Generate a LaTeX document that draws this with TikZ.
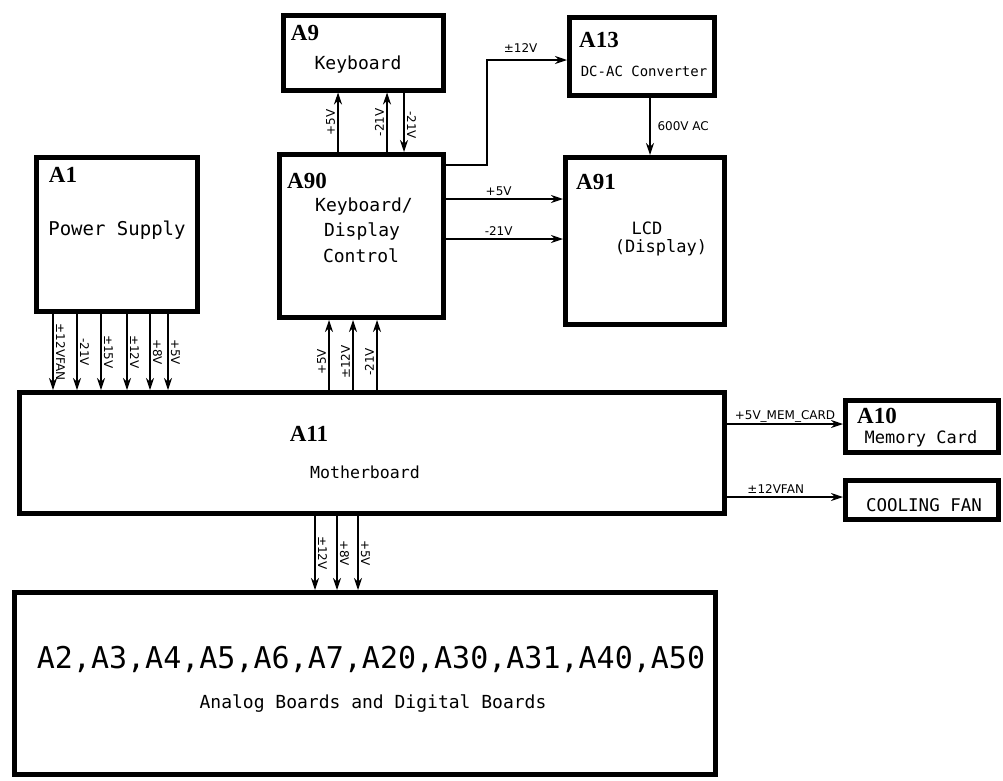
\documentclass[tikz,border=0pt]{standalone}
\usepackage{fontspec}
\usetikzlibrary{arrows.meta}
\newfontfamily\boxfont{DejaVu Sans Mono}
\newfontfamily\labfont{DejaVu Sans}
\newfontfamily\titlefont{Liberation Serif}
\tikzset{
  box/.style={draw, line width=5pt, inner sep=0pt},
  ttl/.style={font=\titlefont\bfseries\fontsize{23}{23}\selectfont, inner sep=0pt, anchor=base},
  txt/.style={font=\boxfont\fontsize{#1}{#1}\selectfont, inner sep=0pt, anchor=base},
  txt/.default=18,
  lab/.style={font=\labfont\fontsize{12}{12}\selectfont, inner sep=2.5pt},
  arr/.style={line width=1.1pt, -{Stealth[length=12pt,width=8pt]}}
}
\begin{document}
\begin{tikzpicture}[x=1pt,y=-1pt]
\useasboundingbox (0,0) rectangle (1003,780);
% boxes
\node[box, minimum width=160pt, minimum height=75pt] (a9) at (363,52.5) {};
\node[box, minimum width=145pt, minimum height=78pt] (a13) at (642,56.5) {};
\node[box, minimum width=161pt, minimum height=154pt] (a1) at (117,234.5) {};
\node[box, minimum width=164pt, minimum height=163pt] (a90) at (361.5,236) {};
\node[box, minimum width=159pt, minimum height=167pt] (a91) at (645,241) {};
\node[box, minimum width=705pt, minimum height=121pt] (a11) at (372,453) {};
\node[box, minimum width=153pt, minimum height=52pt] (a10) at (922,426.5) {};
\node[box, minimum width=153pt, minimum height=39pt] (fan) at (922,500) {};
\node[box, minimum width=701pt, minimum height=182pt] (brd) at (365,683.5) {};
% texts
\node[ttl] (t9) at (305,40) {A9};
\node[txt] (k9) at (358,69) {Keyboard};
\node[ttl] (t13) at (599,47) {A13};
\node[txt=14] (c13) at (644,76) {DC-AC Converter};
\node[ttl] (t1) at (63,182) {A1};
\node[txt=19] (p1) at (117,235) {Power Supply};
\node[ttl] (t90) at (307,188) {A90};
\node[txt] (k90) at (364,211) {Keyboard/};
\node[txt] (d90) at (362,236) {Display};
\node[txt] (c90) at (361,262) {Control};
\node[ttl] (t91) at (596,189) {A91};
\node[txt=17] (l91) at (647,234) {LCD};
\node[txt=17] (d91) at (661,252) {(Display)};
\node[ttl] (t11) at (309,441) {A11};
\node[txt=16.6] (m11) at (365,478) {Motherboard};
\node[ttl] (t10) at (877,423) {A10};
\node[txt=17] (m10) at (921,443) {Memory Card};
\node[txt=17.5] (cf) at (924,511) {COOLING FAN};
\node[txt=30] (tb) at (371,668) {A2,A3,A4,A5,A6,A7,A20,A30,A31,A40,A50};
\node[txt=18] (ab) at (373,708) {Analog Boards and Digital Boards};
% A1 -> A11
\draw[arr] (53,0 |- a1.south) -- (53,0 |- a11.north) node[midway, lab, rotate=-90, anchor=south] {±12VFAN};
\draw[arr] (77,0 |- a1.south) -- (77,0 |- a11.north) node[midway, lab, rotate=-90, anchor=south] {-21V};
\draw[arr] (101,0 |- a1.south) -- (101,0 |- a11.north) node[midway, lab, rotate=-90, anchor=south] {±15V};
\draw[arr] (127,0 |- a1.south) -- (127,0 |- a11.north) node[midway, lab, rotate=-90, anchor=south] {±12V};
\draw[arr] (150,0 |- a1.south) -- (150,0 |- a11.north) node[midway, lab, rotate=-90, anchor=south] {+8V};
\draw[arr] (168,0 |- a1.south) -- (168,0 |- a11.north) node[midway, lab, rotate=-90, anchor=south] {+5V};
% A11 -> A90
\draw[arr] (329,0 |- a11.north) -- (329,0 |- a90.south) node[pos=0.4, lab, rotate=90, anchor=south] {+5V};
\draw[arr] (353,0 |- a11.north) -- (353,0 |- a90.south) node[pos=0.4, lab, rotate=90, anchor=south] {±12V};
\draw[arr] (377,0 |- a11.north) -- (377,0 |- a90.south) node[pos=0.4, lab, rotate=90, anchor=south] {-21V};
% A90 <-> A9
\draw[arr] (338,0 |- a90.north) -- (338,0 |- a9.south) node[midway, lab, rotate=90, anchor=south] {+5V};
\draw[arr] (387,0 |- a90.north) -- (387,0 |- a9.south) node[midway, lab, rotate=90, anchor=south] {-21V};
\draw[arr] (404,0 |- a9.south) -- (404,0 |- a90.north) node[pos=0.55, lab, rotate=-90, anchor=south] {-21V};
% A90 -> A91
\draw[arr] (a90.east |- 0,199) -- (a91.west |- 0,199) node[pos=0.45, lab, above] {+5V};
\draw[arr] (a90.east |- 0,239) -- (a91.west |- 0,239) node[pos=0.45, lab, above] {-21V};
% A90 -> A13
\draw[arr] (a90.east |- 0,165) -- (487,165) -- (487,60) -- (a13.west |- 0,60) node[pos=0.42, lab, above, inner sep=7pt] {±12V};
% A13 -> A91
\draw[arr] (650,0 |- a13.south) -- (650,0 |- a91.north) node[midway, lab, right, inner sep=7pt] {600V AC};
% A11 -> A10, fan
\draw[arr] (a11.east |- 0,424) -- (a10.west |- 0,424) node[midway, lab, above, inner sep=1.5pt] {+5V\_MEM\_CARD};
\draw[arr] (a11.east |- 0,497) -- (fan.west |- 0,497) node[pos=0.42, lab, above, inner sep=3pt] {±12VFAN};
% A11 -> boards
\draw[arr] (315,0 |- a11.south) -- (315,0 |- brd.north) node[midway, lab, rotate=-90, anchor=south] {±12V};
\draw[arr] (337,0 |- a11.south) -- (337,0 |- brd.north) node[midway, lab, rotate=-90, anchor=south] {+8V};
\draw[arr] (358,0 |- a11.south) -- (358,0 |- brd.north) node[midway, lab, rotate=-90, anchor=south] {+5V};
\end{tikzpicture}
\end{document}
